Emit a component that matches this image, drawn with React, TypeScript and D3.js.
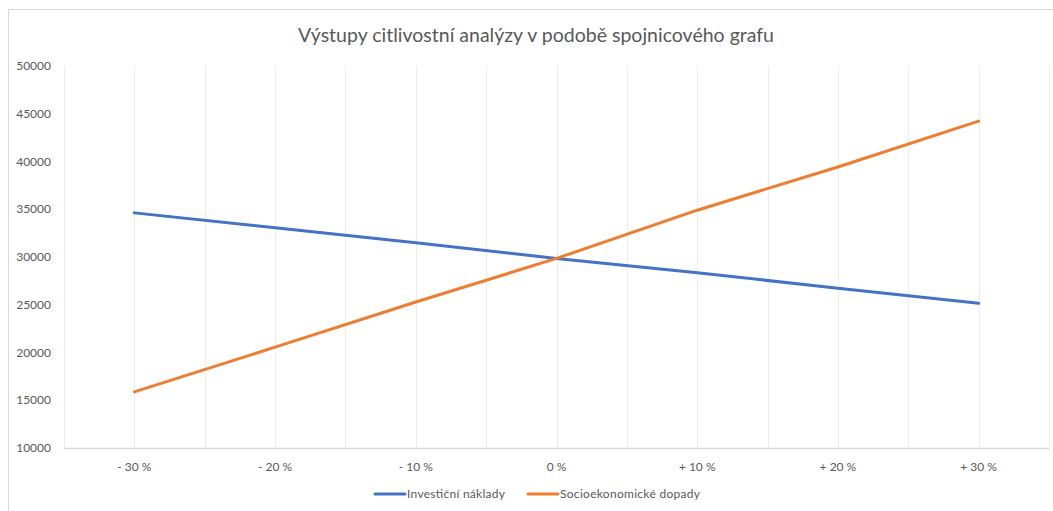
import React, { useEffect, useRef } from "react";
import * as d3 from "d3";

const W = 1053;
const H = 511;

const categories = ["- 30 %", "- 20 %", "- 10 %", "0 %", "+ 10 %", "+ 20 %", "+ 30 %"];
const investicniNaklady = [34620, 33060, 31500, 29850, 28350, 26730, 25150];
const socioekonomickeDopady = [15880, 20560, 25290, 29850, 34900, 39430, 44230];
const yTicks = [10000, 15000, 20000, 25000, 30000, 35000, 40000, 45000, 50000];

const seriesNames = ["Investiční náklady", "Socioekonomické dopady"];
const seriesColors = ["#4472C4", "#ED7D31"];

const FONT = "Lato, 'Liberation Sans', sans-serif";

export default function App() {
  const ref = useRef<SVGSVGElement>(null);

  useEffect(() => {
    const svg = d3.select(ref.current);
    svg.selectAll("*").remove();

    // chart frame
    svg.append("rect")
      .attr("x", 8.5).attr("y", 9.5)
      .attr("width", W).attr("height", H)
      .attr("fill", "#fff")
      .attr("stroke", "#d9d9d9");

    // title
    svg.append("text")
      .attr("x", 536).attr("y", 42)
      .attr("text-anchor", "middle")
      .attr("font-family", FONT)
      .attr("font-size", 19)
      .attr("fill", "#595959")
      .attr("textLength", 476)
      .attr("lengthAdjust", "spacingAndGlyphs")
      .text("Výstupy citlivostní analýzy v podobě spojnicového grafu");

    const x = d3.scaleBand().domain(categories).range([64, 1049]);
    const y = d3.scaleLinear().domain([10000, 50000]).range([448, 66]);
    const cx = (c: string) => (x(c) as number) + x.bandwidth() / 2;

    // vertical gridlines at band edges and band centres
    const gridX: number[] = [];
    categories.forEach(c => {
      gridX.push(x(c) as number);
      gridX.push(cx(c));
    });
    gridX.push(x.range()[1]);
    svg.append("g")
      .selectAll("line")
      .data(gridX)
      .enter()
      .append("line")
      .attr("x1", d => Math.round(d) + 0.5)
      .attr("x2", d => Math.round(d) + 0.5)
      .attr("y1", y(50000))
      .attr("y2", y(10000))
      .attr("stroke", "#ececec")
      .attr("stroke-width", 1);

    // x axis line
    svg.append("line")
      .attr("x1", 64).attr("x2", 1049)
      .attr("y1", y(10000) + 0.5).attr("y2", y(10000) + 0.5)
      .attr("stroke", "#d9d9d9")
      .attr("stroke-width", 1.5);

    // y labels
    svg.append("g")
      .selectAll("text")
      .data(yTicks)
      .enter()
      .append("text")
      .attr("x", 51)
      .attr("y", d => y(d))
      .attr("dy", "0.35em")
      .attr("text-anchor", "end")
      .attr("font-family", FONT)
      .attr("font-size", 12)
      .attr("fill", "#595959")
      .text(d => String(d));

    // x labels
    svg.append("g")
      .selectAll("text")
      .data(categories)
      .enter()
      .append("text")
      .attr("x", d => cx(d))
      .attr("y", 467)
      .attr("dy", "0.35em")
      .attr("text-anchor", "middle")
      .attr("font-family", FONT)
      .attr("font-size", 12)
      .attr("fill", "#595959")
      .text(d => d);

    // lines
    const line = d3.line<number>()
      .x((d, i) => cx(categories[i]))
      .y(d => y(d));

    [investicniNaklady, socioekonomickeDopady].forEach((s, i) => {
      svg.append("path")
        .datum(s)
        .attr("d", line)
        .attr("fill", "none")
        .attr("stroke", seriesColors[i])
        .attr("stroke-width", 3)
        .attr("stroke-linecap", "round")
        .attr("stroke-linejoin", "round");
    });

    // legend
    const legendX = [375, 528];
    const legendW = [98, 140];
    seriesNames.forEach((name, i) => {
      const g = svg.append("g").attr("transform", `translate(${legendX[i]},494)`);
      g.append("line")
        .attr("x1", 0).attr("x2", 30)
        .attr("y1", 0).attr("y2", 0)
        .attr("stroke", seriesColors[i])
        .attr("stroke-width", 3)
        .attr("stroke-linecap", "round");
      g.append("text")
        .attr("x", 32)
        .attr("y", 0)
        .attr("dy", "0.35em")
        .attr("font-family", FONT)
        .attr("font-size", 12)
        .attr("fill", "#595959")
        .attr("textLength", legendW[i])
        .attr("lengthAdjust", "spacing")
        .text(name);
    });
  }, []);

  return (
    <svg
      ref={ref}
      width={W}
      height={H}
      style={{ position: "absolute", left: 0, top: 0, background: "#fff" }}
    />
  );
}
